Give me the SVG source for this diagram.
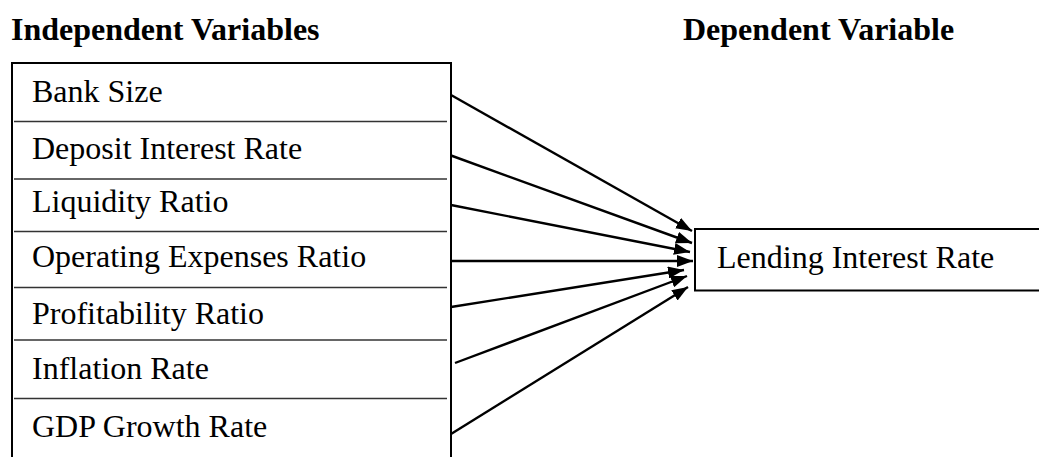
<svg xmlns="http://www.w3.org/2000/svg" width="1039" height="457" viewBox="0 0 1039 457">
  <style>
    text { font-family: "Liberation Serif", "Times New Roman", serif; font-size: 32px; fill: #000; }
    .head { font-weight: bold; }
    .frame { fill: none; stroke: #000; stroke-width: 2; }
    .sep { stroke: #333; stroke-width: 1.4; }
    .conn { stroke: #000; stroke-width: 2.4; fill: none; marker-end: url(#arrow); }
  </style>
  <defs>
    <marker id="arrow" viewBox="0 0 16 12" refX="16" refY="6" markerWidth="16" markerHeight="12" markerUnits="userSpaceOnUse" orient="auto">
      <path d="M0,0 L16,6 L0,12 Z" fill="#000"/>
    </marker>
  </defs>
  <rect width="1039" height="457" fill="#fff"/>

  <g id="headers">
    <text class="head" x="11" y="40">Independent Variables</text>
    <text class="head" x="683" y="40">Dependent Variable</text>
  </g>

  <!-- independent variables list, open at the bottom -->
  <g id="independent">
    <path class="frame" d="M12,457 V63 H451 V457"/>
    <line class="sep" x1="14" y1="121.5" x2="447" y2="121.5"/>
    <line class="sep" x1="14" y1="179" x2="447" y2="179"/>
    <line class="sep" x1="14" y1="231.5" x2="447" y2="231.5"/>
    <line class="sep" x1="14" y1="287.5" x2="447" y2="287.5"/>
    <line class="sep" x1="14" y1="340" x2="447" y2="340"/>
    <line class="sep" x1="14" y1="398.5" x2="447" y2="398.5"/>
  </g>
  <g id="bank-size"><text x="32" y="102">Bank Size</text></g>
  <g id="deposit-rate"><text x="32" y="158.5">Deposit Interest Rate</text></g>
  <g id="liquidity"><text x="32" y="212">Liquidity Ratio</text></g>
  <g id="opex"><text x="32" y="267">Operating Expenses Ratio</text></g>
  <g id="profitability"><text x="32" y="323.5">Profitability Ratio</text></g>
  <g id="inflation"><text x="32" y="378.5">Inflation Rate</text></g>
  <g id="gdp"><text x="32" y="437">GDP Growth Rate</text></g>

  <g id="lending-rate">
    <path class="frame" d="M1045,229 H695 V290.5 H1045"/>
    <text x="717" y="268">Lending Interest Rate</text>
  </g>

  <g id="connectors">
    <line class="conn" x1="451" y1="95" x2="692" y2="231"/>
    <line class="conn" x1="451" y1="155.5" x2="692" y2="243"/>
    <line class="conn" x1="451" y1="205" x2="690" y2="252"/>
    <line class="conn" x1="451" y1="261" x2="693" y2="261"/>
    <line class="conn" x1="451" y1="307" x2="684" y2="270"/>
    <line class="conn" x1="455" y1="363" x2="687" y2="276"/>
    <line class="conn" x1="451" y1="434" x2="688" y2="287"/>
  </g>
</svg>
